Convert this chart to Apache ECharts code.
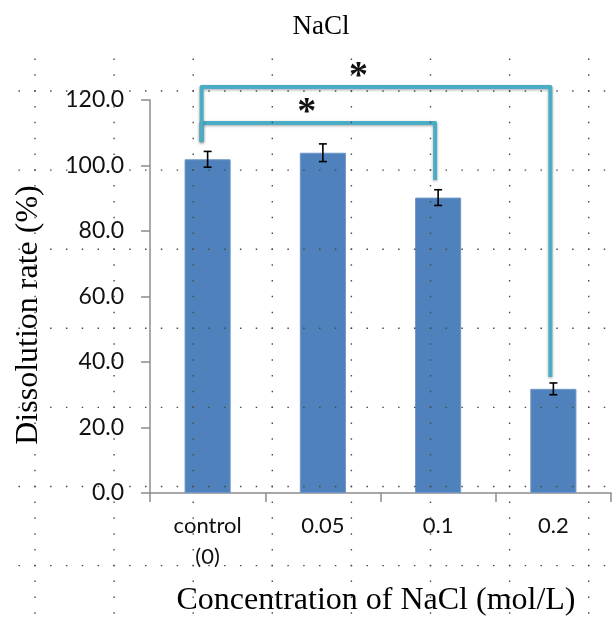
<!DOCTYPE html>
<html>
<head>
<meta charset="utf-8">
<title>NaCl</title>
<script src="https://cdn.jsdelivr.net/npm/echarts@6/dist/echarts.min.js"></script>
<style>
  html, body { margin: 0; padding: 0; background: #ffffff; }
  #chart { width: 614px; height: 619px; }
</style>
</head>
<body>
<div id="chart"></div>
<script>
// Categories and measured values
const categories = ['control\n(0)', '0.05', '0.1', '0.2'];
const dissolutionRate = [101.9, 103.9, 90.2, 31.8];
const errorMargin = [2.4, 2.7, 2.4, 1.8];

// Value axis ticks
const yMin = 0;
const yMax = 120;
const yStep = 20;

// Significance brackets: category indices and value levels of each bracket
const bracketFrom = [0, 0];
const bracketTo = [2, 3];
const bracketStart = [107.2, 107.2];
const bracketLevel = [113.0, 124.0];
const bracketEnd = [95.6, 35.4];
const bracketMark = ['*', '*'];

const chart = echarts.init(document.getElementById('chart'), null, { renderer: 'canvas' });

const errorData = dissolutionRate.map((v, i) => [i, v - errorMargin[i], v + errorMargin[i]]);
const bracketData = bracketFrom.map((f, i) => [f, bracketTo[i], bracketStart[i], bracketLevel[i], bracketEnd[i]]);

// Dotted drawing-canvas guide grid laid over the whole figure
function dottedGuides() {
  const els = [];
  const pitch = 79.1;
  const dot = 1.5;
  const gap = pitch / 5 - dot;
  const style = { stroke: '#4a4a4a', lineWidth: 1.4, lineDash: [dot, gap] };
  for (let k = 0; k < 8; k++) {
    const x = 35 + k * pitch;
    els.push({ type: 'line', silent: true, z: 200,
      shape: { x1: x, y1: 59.3 - dot / 2, x2: x, y2: 619 }, style: style });
  }
  for (let k = 0; k < 7; k++) {
    const y = 91 + k * pitch;
    els.push({ type: 'line', silent: true, z: 200,
      shape: { x1: 35 - pitch / 5 - dot / 2, y1: y, x2: 614, y2: y }, style: style });
  }
  return els;
}

const option = {
  backgroundColor: '#ffffff',
  animation: false,
  title: {
    text: 'NaCl',
    left: 316,
    top: 8,
    textAlign: 'center',
    textStyle: { fontFamily: '"Liberation Serif", "Times New Roman", serif', fontSize: 27, fontWeight: 'normal', color: '#000' }
  },
  grid: { left: 150, right: 3, top: 100, bottom: 126 },
  xAxis: {
    type: 'category',
    data: categories,
    axisLine: { lineStyle: { color: '#8c8c8c', width: 1.5 } },
    axisTick: { show: true, alignWithLabel: false, length: 9, lineStyle: { color: '#8c8c8c', width: 1.5 } },
    axisLabel: {
      margin: 17,
      fontFamily: 'Lato, "Open Sans", sans-serif',
      fontSize: 22,
      lineHeight: 31,
      color: '#111'
    },
    splitLine: { show: false }
  },
  yAxis: {
    type: 'value',
    min: yMin,
    max: yMax,
    interval: yStep,
    axisLine: { show: true, lineStyle: { color: '#8c8c8c', width: 1.5 } },
    axisTick: { show: true, inside: false, length: 9, lineStyle: { color: '#8c8c8c', width: 1.5 } },
    axisLabel: {
      margin: 26,
      fontFamily: 'Lato, "Open Sans", sans-serif',
      fontSize: 23,
      color: '#111',
      formatter: v => v.toFixed(1)
    },
    splitLine: { show: false }
  },
  graphic: [
    {
      type: 'text',
      x: 29, y: 315,
      rotation: Math.PI / 2,
      style: {
        text: 'Dissolution rate (%)',
        font: '32px "Liberation Serif", "Times New Roman", serif',
        fill: '#000',
        align: 'center',
        verticalAlign: 'middle'
      }
    },
    {
      type: 'text',
      x: 376, y: 601,
      style: {
        text: 'Concentration of NaCl (mol/L)',
        font: '32px "Liberation Serif", "Times New Roman", serif',
        fill: '#000',
        align: 'center',
        verticalAlign: 'middle'
      }
    }
  ].concat(dottedGuides()),
  series: [
    {
      type: 'bar',
      data: dissolutionRate,
      barWidth: '40%',
      itemStyle: { color: '#4f81bd', borderColor: '#6f97c9', borderWidth: 1 },
      z: 2
    },
    {
      type: 'custom',
      data: errorData,
      z: 5,
      renderItem: function (params, api) {
        const x = api.value(0);
        const lo = api.coord([x, api.value(1)]);
        const hi = api.coord([x, api.value(2)]);
        const cap = 4;
        const st = { stroke: '#000', lineWidth: 1.6 };
        return {
          type: 'group',
          children: [
            { type: 'line', shape: { x1: lo[0], y1: lo[1], x2: hi[0], y2: hi[1] }, style: st },
            { type: 'line', shape: { x1: lo[0] - cap, y1: lo[1], x2: lo[0] + cap, y2: lo[1] }, style: st },
            { type: 'line', shape: { x1: hi[0] - cap, y1: hi[1], x2: hi[0] + cap, y2: hi[1] }, style: st }
          ]
        };
      }
    },
    {
      type: 'custom',
      data: bracketData,
      clip: false,
      z: 10,
      renderItem: function (params, api) {
        const f = api.value(0), t = api.value(1);
        const p0 = api.coord([f, api.value(2)]);
        const p1 = api.coord([f, api.value(3)]);
        const p2 = api.coord([t, api.value(3)]);
        const p3 = api.coord([t, api.value(4)]);
        const dxL = -6, dxR = -3;
        const pts = [
          [p0[0] + dxL, p0[1]],
          [p1[0] + dxL, p1[1]],
          [p2[0] + dxR, p2[1]],
          [p3[0] + dxR, p3[1]]
        ];
        const mx = pts[1][0] + (pts[2][0] - pts[1][0]) * 0.45;
        return {
          type: 'group',
          children: [
            {
              type: 'polyline',
              shape: { points: pts },
              style: {
                stroke: '#4bacc6', lineWidth: 4, fill: null, lineJoin: 'round', lineCap: 'butt',
                shadowBlur: 3, shadowColor: 'rgba(0,0,0,0.35)', shadowOffsetY: 1
              }
            },
            {
              type: 'text',
              style: {
                text: bracketMark[params.dataIndex],
                x: mx, y: p1[1] - 10,
                font: 'bold 38px "Liberation Serif", "Times New Roman", serif',
                fill: '#111',
                align: 'center',
                verticalAlign: 'middle'
              }
            }
          ]
        };
      }
    }
  ]
};

chart.setOption(option);
</script>
</body>
</html>
